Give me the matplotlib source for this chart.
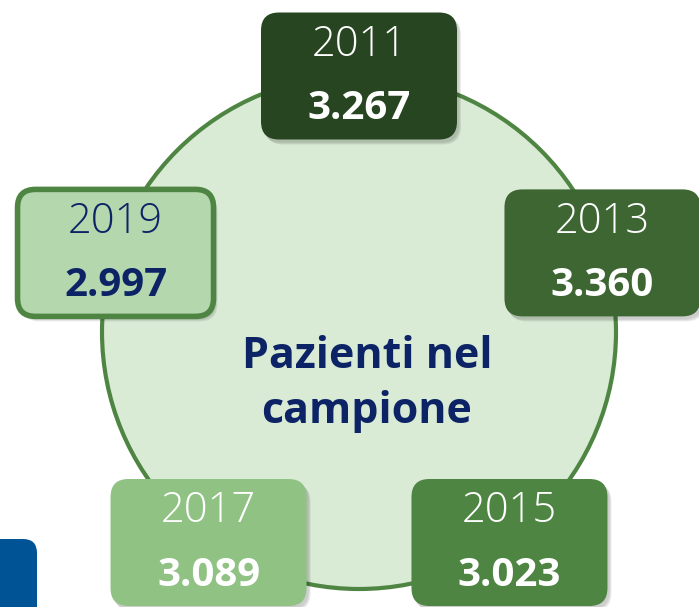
import numpy as np
import matplotlib.pyplot as plt
from matplotlib.patches import Circle, FancyBboxPatch

# data
years = ["2011", "2013", "2015", "2017", "2019"]
patients = [3267, 3360, 3023, 3089, 2997]
center_label = "Pazienti nel\ncampione"

box_fill = ["#284521", "#3d6632", "#4e8542", "#90c284", "#b4d7ae"]
text_col = ["white", "white", "white", "white", "#0c2466"]
NAVY = "#0c2466"
GREEN = "#4e8542"
FONT = ["Open Sans", "DejaVu Sans"]

W, H = 699, 607
fig = plt.figure(figsize=(W / 100, H / 100), dpi=100)
ax = fig.add_axes([0, 0, 1, 1])
ax.set_xlim(0, W)
ax.set_ylim(H, 0)
ax.set_aspect("equal")
ax.axis("off")

# central circle
cx, cy, r = 359, 332, 257
ax.add_patch(Circle((cx, cy), r, facecolor="#d9ead5", edgecolor=GREEN, lw=3, zorder=1))
ax.text(cx + 8, cy + 52, center_label, ha="center", va="center", color=NAVY,
        fontsize=31, fontweight="bold", family=FONT, linespacing=1.35, zorder=2)

# blue tab bottom-left
ax.add_patch(FancyBboxPatch((-30, 539), 67, 120, boxstyle="round,pad=0,rounding_size=14",
                            facecolor="#005395", edgecolor="none", zorder=1))

# boxes placed on a pentagon around the circle
bw, bh, ring = 196, 127, 256
for i, (yr, val) in enumerate(zip(years, patients)):
    ang = np.deg2rad(90 - 72 * i)
    bx = cx + ring * np.cos(ang)
    by = cy - ring * np.sin(ang)
    if i == 0:
        by = 76
    x0, y0 = bx - bw / 2, by - bh / 2
    if i in (2, 3):
        y0 = 479
    # soft shadow
    for k, a in enumerate([0.06, 0.07, 0.08]):
        ax.add_patch(FancyBboxPatch((x0 + 2 + k, y0 + 3 + k), bw, bh,
                                    boxstyle="round,pad=0,rounding_size=18",
                                    facecolor="black", edgecolor="none", alpha=a, zorder=3))
    edge = GREEN if i == 4 else "none"
    ax.add_patch(FancyBboxPatch((x0, y0), bw, bh, boxstyle="round,pad=0,rounding_size=18",
                                facecolor=box_fill[i], edgecolor=edge, lw=4, zorder=4))
    label = f"{val:,}".replace(",", ".")
    ax.text(x0 + bw / 2, y0 + 32, yr, ha="center", va="center", color=text_col[i],
            fontsize=30, fontweight="light", family=FONT, zorder=5)
    ax.text(x0 + bw / 2, y0 + 96, label, ha="center", va="center", color=text_col[i],
            fontsize=29, fontweight="bold", family=FONT, zorder=5)

fig.savefig("out.png", dpi=100)
